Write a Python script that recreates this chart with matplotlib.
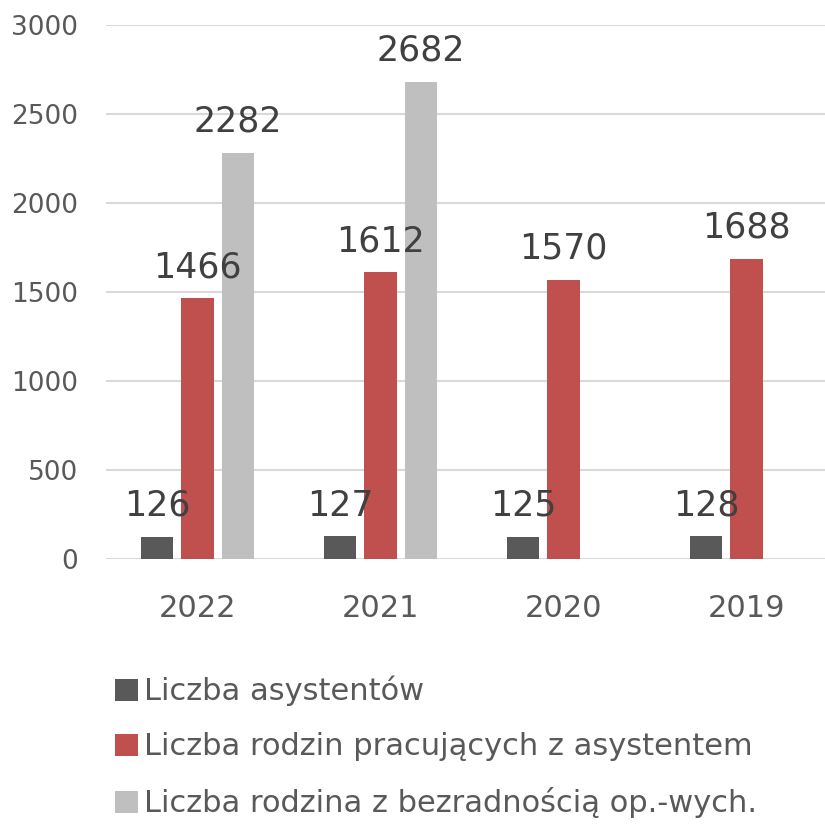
import numpy as np
import matplotlib.pyplot as plt
from matplotlib.patches import Patch

years = ["2022", "2021", "2020", "2019"]
asystenci = [126, 127, 125, 128]
rodziny = [1466, 1612, 1570, 1688]
bezradnosc = [2282, 2682, None, None]

series_names = [
    "Liczba asystentów",
    "Liczba rodzin pracujących z asystentem",
    "Liczba rodzina z bezradnością op.-wych.",
]
colors = ["#595959", "#C0504D", "#BFBFBF"]

plt.rcParams['font.family'] = ['DejaVu Sans']

fig = plt.figure(figsize=(8.25, 8.27), dpi=100)
ax = fig.add_axes([106 / 825, 1 - 559 / 827, 732 / 825, 534 / 827])

x = np.arange(len(years))
width = 0.175
step = 0.221

for i, (vals, col) in enumerate(zip([asystenci, rodziny, bezradnosc], colors)):
    xs = [xi + (i - 1) * step for xi, v in zip(x, vals) if v is not None]
    vs = [v for v in vals if v is not None]
    bars = ax.bar(xs, vs, width=width, color=col, zorder=3)
    for b, v in zip(bars, vs):
        ax.annotate(str(v), (b.get_x() + b.get_width() / 2, v),
                    xytext=(0, 10), textcoords="offset points",
                    ha="center", va="bottom", fontsize=25, color="#404040",
                    zorder=6)

ax.set_xlim(-0.5, 3.5)
ax.set_ylim(0, 3000)
ax.set_yticks(np.arange(0, 3001, 500))
ax.set_xticks(x)
ax.set_xticklabels(years)
ax.grid(axis="y", color="#D9D9D9", linewidth=1.5, zorder=0)
for s in ax.spines.values():
    s.set_visible(False)
ax.tick_params(axis="y", length=0, pad=20, labelsize=19, labelcolor="#595959")
ax.tick_params(axis="x", length=0, pad=25, labelsize=22, labelcolor="#595959")

handles = [Patch(facecolor=c) for c in colors]
fig.legend(handles, series_names, loc="upper left",
           bbox_to_anchor=(115 / 825, 1 - 676 / 827), frameon=False,
           fontsize=22, labelcolor="#595959", handlelength=0.75,
           handleheight=0.75, handletextpad=0.2, labelspacing=0.85,
           borderaxespad=0, borderpad=0)

fig.savefig("out.png", dpi=100)
